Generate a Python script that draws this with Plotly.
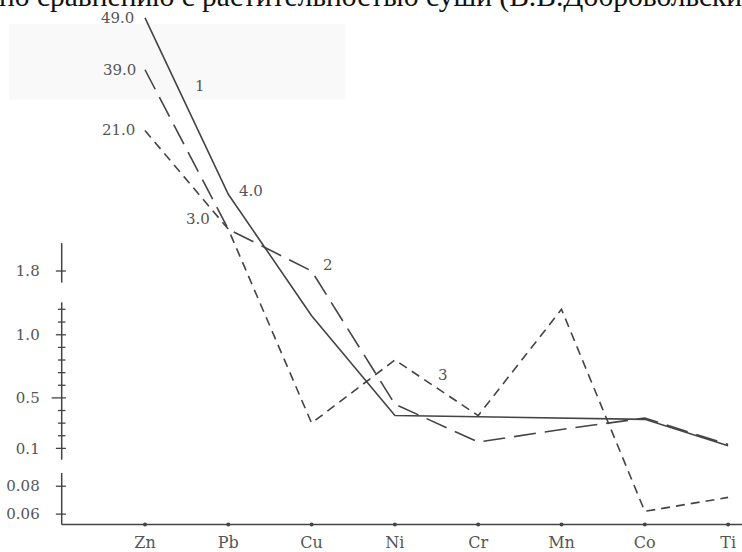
import numpy as np
import plotly.graph_objects as go

# ---- data -------------------------------------------------------------
elements = ["Zn", "Pb", "Cu", "Ni", "Cr", "Mn", "Co", "Ti"]
curve_1 = [49.0, 4.0, 1.15, 0.36, 0.35, 0.34, 0.33, 0.12]
curve_2 = [39.0, 3.0, 1.8, 0.45, 0.15, 0.25, 0.34, 0.13]
curve_3 = [21.0, 3.0, 0.30, 0.80, 0.36, 1.2, 0.062, 0.072]
curve_names = ["1", "2", "3"]

axis_ticks = [0.06, 0.08, 0.1, 0.5, 1.0, 1.8]
axis_tick_labels = ["0.06", "0.08", "0.1", "0.5", "1.0", "1.8"]
minor_ticks = [0.2, 0.3, 0.4, 0.6, 0.7, 0.8, 0.9, 1.1, 1.2]

title_text = "по сравнению с растительностью суши (В.В.Добровольски"

# ---- broken vertical scale: value -> vertical position (px from top) ----
scale_values = [0.05, 0.06, 0.08, 0.1, 1.0, 1.25, 1.8, 3.0, 4.0, 21.0, 39.0, 49.0]
scale_pos = [530, 516, 488, 450, 336, 304, 272, 230, 195, 131, 70, 18]
axis_pieces = [(0.0525, 0.087), (0.094, 1.26), (1.6, 2.6)]
BASE = 0.0525


def ypos(v):
    return np.interp(np.asarray(v, dtype=float), scale_values, scale_pos)


W, H = 742, 552
STEP_PX, FIRST_PX = 83.3, 145.0
x_range = [-FIRST_PX / STEP_PX, (W - FIRST_PX) / STEP_PX]
X_AX = -1.0
INK = "#444444"
TXT = "#555555"
SERIF = "DejaVu Serif"

fig = go.Figure()

# broken y axis
for lo, hi in axis_pieces:
    fig.add_trace(go.Scatter(x=[X_AX, X_AX], y=ypos([lo, hi]), mode="lines",
                             line=dict(color=INK, width=1.5), hoverinfo="skip"))

# tick crosses
tx, ty = [], []
for v in axis_ticks:
    left = 0.12 if v == 0.5 else 0.07
    tx += [X_AX - left, X_AX + 0.05, None]
    ty += [float(ypos(v)), float(ypos(v)), None]
for v in minor_ticks:
    tx += [X_AX - 0.045, X_AX + 0.045, None]
    ty += [float(ypos(v)), float(ypos(v)), None]
fig.add_trace(go.Scatter(x=tx, y=ty, mode="lines",
                         line=dict(color=INK, width=1.3), hoverinfo="skip"))

# x axis line with category dots
fig.add_trace(go.Scatter(x=[X_AX, x_range[1]], y=ypos([BASE, BASE]), mode="lines",
                         line=dict(color=INK, width=1.5), hoverinfo="skip"))
fig.add_trace(go.Scatter(x=list(range(len(elements))), y=ypos([BASE] * len(elements)),
                         mode="markers", marker=dict(color=INK, size=4), hoverinfo="skip"))

# curves
styles = [dict(dash="solid"), dict(dash="22px,9px"), dict(dash="9px,6px")]
for vals, st, name in zip([curve_1, curve_2, curve_3], styles, curve_names):
    fig.add_trace(go.Scatter(x=list(range(len(elements))), y=ypos(vals), mode="lines",
                             name=name, line=dict(color=INK, width=1.6, **st)))

annotations = []
# value labels at the start of the curves
value_labels = [
    (curve_1, 0, "right", -9, 0),
    (curve_2, 0, "right", -7, 0),
    (curve_3, 0, "right", -8, 1),
    (curve_1, 1, "left", 9, 3),
    (curve_2, 1, "right", -16, 10),
]
for vals, i, anchor, dx, dy in value_labels:
    annotations.append(dict(x=i, y=float(ypos(vals[i])), xref="x", yref="y",
                            text=f"{vals[i]:.1f}", showarrow=False, xanchor=anchor,
                            yanchor="middle", xshift=dx, yshift=dy,
                            font=dict(family=SERIF, size=15, color=TXT)))

# curve numbers
for name, (px, py) in zip(curve_names, [(200, 86), (328, 266), (443, 376)]):
    annotations.append(dict(x=px / W, y=1 - py / H, xref="paper", yref="paper",
                            text=name, showarrow=False, xanchor="center", yanchor="middle",
                            font=dict(family=SERIF, size=15, color=TXT)))

# heading line cut by the top edge
annotations.append(dict(x=0, y=1 - 15 / H, xref="paper", yref="paper", text=title_text,
                        showarrow=False, xanchor="left", yanchor="bottom", xshift=-3,
                        font=dict(family="Liberation Serif", size=29.5, color="#111111")))

fig.update_layout(
    width=W, height=H,
    margin=dict(l=0, r=0, t=0, b=0),
    paper_bgcolor="white", plot_bgcolor="white",
    showlegend=False,
    annotations=annotations,
    shapes=[dict(type="rect", xref="paper", yref="paper", x0=0.012, x1=345 / W,
                 y0=1 - 100 / H, y1=1 - 24 / H, fillcolor="rgba(0,0,0,0.022)",
                 line=dict(width=0), layer="below")],
    xaxis=dict(range=x_range, domain=[0, 1], tickmode="array",
               tickvals=list(range(len(elements))), ticktext=elements,
               showline=False, showgrid=False, zeroline=False, ticks="",
               anchor="free", position=(H - float(ypos(BASE))) / H,
               ticklabelstandoff=6,
               tickfont=dict(family=SERIF, size=16, color=TXT)),
    yaxis=dict(range=[H, 0], domain=[0, 1], tickmode="array",
               tickvals=[float(v) for v in ypos(axis_ticks)], ticktext=axis_tick_labels,
               showline=False, showgrid=False, zeroline=False, ticks="",
               anchor="free", position=(X_AX - x_range[0]) / (x_range[1] - x_range[0]),
               ticklabelstandoff=22,
               tickfont=dict(family=SERIF, size=15, color=TXT)),
)

fig.write_html("out.html")
